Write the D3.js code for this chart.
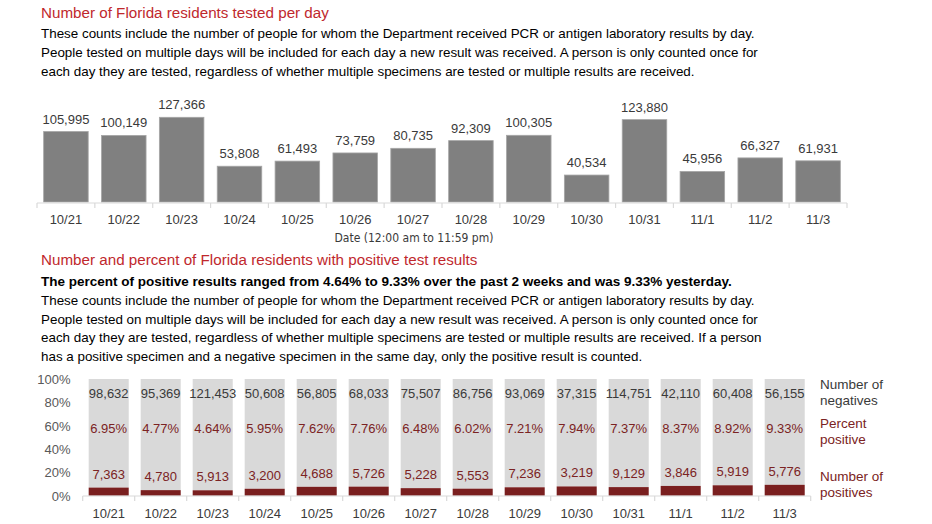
<!DOCTYPE html>
<html>
<head>
<meta charset="utf-8">
<script src="https://cdn.jsdelivr.net/npm/d3@7"></script>
<style>
  html, body { margin: 0; padding: 0; background: #fff; }
  svg { display: block; font-family: "Liberation Sans", Arial, sans-serif; }
</style>
</head>
<body>
<svg id="chart" width="932" height="524"></svg>
<script>
// ---- Data ----
const dates = ["10/21","10/22","10/23","10/24","10/25","10/26","10/27","10/28","10/29","10/30","10/31","11/1","11/2","11/3"];
const testedPerDay = [105995,100149,127366,53808,61493,73759,80735,92309,100305,40534,123880,45956,66327,61931];
const negatives = [98632,95369,121453,50608,56805,68033,75507,86756,93069,37315,114751,42110,60408,56155];
const positives = [7363,4780,5913,3200,4688,5726,5228,5553,7236,3219,9129,3846,5919,5776];
const percentPositive = [6.95,4.77,4.64,5.95,7.62,7.76,6.48,6.02,7.21,7.94,7.37,8.37,8.92,9.33];
const percentTicks = [0,0.2,0.4,0.6,0.8,1];

const title1 = "Number of Florida residents tested per day";
const desc1 = [
  "These counts include the number of people for whom the Department received PCR or antigen laboratory results by day.",
  "People tested on multiple days will be included for each day a new result was received. A person is only counted once for",
  "each day they are tested, regardless of whether multiple specimens are tested or multiple results are received."
];
const axisTitle1 = "Date (12:00 am to 11:59 pm)";
const title2 = "Number and percent of Florida residents with positive test results";
const bold2 = "The percent of positive results ranged from 4.64% to 9.33% over the past 2 weeks and was 9.33% yesterday.";
const desc2 = [
  "These counts include the number of people for whom the Department received PCR or antigen laboratory results by day.",
  "People tested on multiple days will be included for each day a new result was received. A person is only counted once for",
  "each day they are tested, regardless of whether multiple specimens are tested or multiple results are received. If a person",
  "has a positive specimen and a negative specimen in the same day, only the positive result is counted."
];
const legendItems = [
  {lines: ["Number of", "negatives"], key: "neg"},
  {lines: ["Percent", "positive"], key: "pct"},
  {lines: ["Number of", "positives"], key: "pos"}
];

// ---- Styles ----
const RED_TITLE = "#c0282d";
const DARK_RED = "#7a1f1f";
const LABEL_RED = "#7b2323";
const TEXT = "#000";
const LABEL_DARK = "#3a3a3a";
const AXIS_GRAY = "#d9d9d9";

const svg = d3.select("#chart");
const fmt = d3.format(",");

// ---- Header text (chart 1) ----
svg.append("text").attr("x", 41).attr("y", 18)
  .attr("font-size", 15.2).attr("fill", RED_TITLE).text(title1);
svg.selectAll("text.d1").data(desc1).join("text").attr("class", "d1")
  .attr("x", 41).attr("y", (d, i) => 38 + i * 19)
  .attr("font-size", 13.4).attr("fill", TEXT).text(d => d);

// ---- Chart 1 ----
const pad = 0.23;
const x1 = d3.scaleBand().domain(dates).range([37, 847]).paddingInner(pad).paddingOuter(pad / 2);
const y1 = d3.scaleLinear().domain([0, 140000]).range([202, 202 - 140000 * 6.65e-4]);

const g1 = svg.append("g");
g1.selectAll("rect").data(dates).join("rect")
  .attr("x", d => x1(d)).attr("width", x1.bandwidth())
  .attr("y", (d, i) => y1(testedPerDay[i]))
  .attr("height", (d, i) => y1(0) - y1(testedPerDay[i]))
  .attr("fill", "#808080").attr("stroke", "#a6a6a6").attr("stroke-width", 0.8);
g1.selectAll("text.v").data(dates).join("text").attr("class", "v")
  .attr("x", d => x1(d) + x1.bandwidth() / 2)
  .attr("y", (d, i) => y1(testedPerDay[i]) - 8)
  .attr("text-anchor", "middle").attr("font-size", 13).attr("fill", LABEL_DARK)
  .text((d, i) => fmt(testedPerDay[i]));

// axis 1
const ax1 = svg.append("g").attr("transform", "translate(0,203)");
ax1.append("line").attr("x1", 37).attr("x2", 847).attr("stroke", AXIS_GRAY).attr("stroke-width", 1.2);
const bounds1 = dates.map(d => x1(d) - x1.step() * pad / 2).concat([847]);
ax1.selectAll("line.t").data(bounds1).join("line").attr("class", "t")
  .attr("x1", d => d).attr("x2", d => d).attr("y1", 0).attr("y2", 5)
  .attr("stroke", AXIS_GRAY).attr("stroke-width", 1.2);
ax1.selectAll("text").data(dates).join("text")
  .attr("x", d => x1(d) + x1.bandwidth() / 2).attr("y", 21)
  .attr("text-anchor", "middle").attr("font-size", 13).attr("fill", LABEL_DARK).text(d => d);
svg.append("text").attr("x", 414).attr("y", 242).attr("text-anchor", "middle")
  .attr("font-family", "'Liberation Sans Narrow', 'DejaVu Sans Condensed', sans-serif")
  .attr("font-size", 12).attr("fill", LABEL_DARK).text(axisTitle1);

// ---- Header text (chart 2) ----
svg.append("text").attr("x", 41).attr("y", 265)
  .attr("font-size", 15.2).attr("fill", RED_TITLE).text(title2);
svg.append("text").attr("x", 41).attr("y", 286)
  .attr("font-size", 13.5).attr("font-weight", "bold").attr("fill", TEXT).text(bold2);
svg.selectAll("text.d2").data(desc2).join("text").attr("class", "d2")
  .attr("x", 41).attr("y", (d, i) => 305 + i * 18.5)
  .attr("font-size", 13.4).attr("fill", TEXT).text(d => d);

// ---- Chart 2 ----
const x2 = d3.scaleBand().domain(dates).range([82.7, 810.7]).paddingInner(pad).paddingOuter(pad / 2);
const y2 = d3.scaleLinear().domain([0, 1]).range([495.7, 379]);
const share = dates.map((d, i) => positives[i] / (positives[i] + negatives[i]));

const g2 = svg.append("g");
g2.selectAll("rect.neg").data(dates).join("rect").attr("class", "neg")
  .attr("x", d => x2(d)).attr("width", x2.bandwidth())
  .attr("y", y2(1)).attr("height", (d, i) => y2(share[i]) - y2(1))
  .attr("fill", "#d9d9d9");
g2.selectAll("rect.pos").data(dates).join("rect").attr("class", "pos")
  .attr("x", d => x2(d)).attr("width", x2.bandwidth())
  .attr("y", (d, i) => y2(share[i])).attr("height", (d, i) => y2(0) - y2(share[i]))
  .attr("fill", DARK_RED);

g2.selectAll("text.nl").data(dates).join("text").attr("class", "nl")
  .attr("x", d => x2(d) + x2.bandwidth() / 2).attr("y", y2(1) + 19)
  .attr("text-anchor", "middle").attr("font-size", 13).attr("fill", LABEL_DARK)
  .text((d, i) => fmt(negatives[i]));
g2.selectAll("text.pl").data(dates).join("text").attr("class", "pl")
  .attr("x", d => x2(d) + x2.bandwidth() / 2).attr("y", y2(0.6) + 7)
  .attr("text-anchor", "middle").attr("font-size", 13).attr("fill", LABEL_RED)
  .text((d, i) => percentPositive[i].toFixed(2) + "%");
g2.selectAll("text.ps").data(dates).join("text").attr("class", "ps")
  .attr("x", d => x2(d) + x2.bandwidth() / 2).attr("y", (d, i) => y2(share[i]) - 9)
  .attr("text-anchor", "middle").attr("font-size", 13).attr("fill", LABEL_RED)
  .text((d, i) => fmt(positives[i]));

// axis 2
const ax2 = svg.append("g").attr("transform", "translate(0,496)");
ax2.append("line").attr("x1", 82.7).attr("x2", 810.7).attr("stroke", AXIS_GRAY).attr("stroke-width", 1.2);
const bounds2 = dates.map(d => x2(d) - x2.step() * pad / 2).concat([810.7]);
ax2.selectAll("line.t").data(bounds2).join("line").attr("class", "t")
  .attr("x1", d => d).attr("x2", d => d).attr("y1", 0).attr("y2", 5)
  .attr("stroke", AXIS_GRAY).attr("stroke-width", 1.2);
ax2.selectAll("text").data(dates).join("text")
  .attr("x", d => x2(d) + x2.bandwidth() / 2).attr("y", 22)
  .attr("text-anchor", "middle").attr("font-size", 13).attr("fill", LABEL_DARK).text(d => d);

// y axis 2
svg.append("g").selectAll("text").data(percentTicks).join("text")
  .attr("x", 70.5).attr("y", d => y2(d) + 5)
  .attr("text-anchor", "end").attr("font-size", 13).attr("fill", "#595959")
  .text(d => d3.format(".0%")(d));

// legend
const legY = {neg: y2(1) + 10, pct: y2(0.6) + 2, pos: y2(0) - 15};
const legC = {neg: LABEL_DARK, pct: LABEL_RED, pos: LABEL_RED};
legendItems.forEach(item => {
  svg.append("g").selectAll("text").data(item.lines).join("text")
    .attr("x", 820).attr("y", (d, i) => legY[item.key] + i * 16)
    .attr("font-size", 13.5).attr("fill", legC[item.key]).text(d => d);
});
</script>
</body>
</html>
